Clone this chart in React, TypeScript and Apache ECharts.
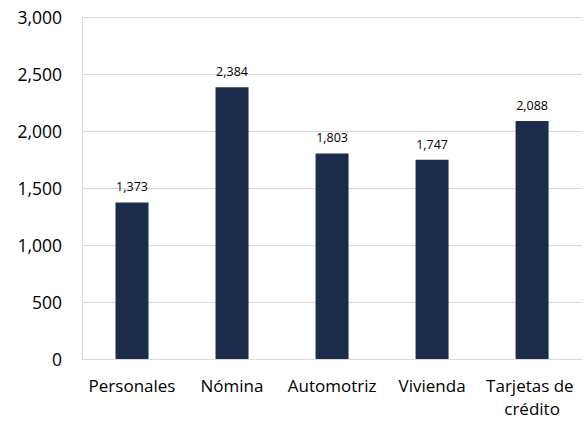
import React, { useEffect, useRef } from "react";
import * as echarts from "echarts";

const categories = ["Personales", "Nómina", "Automotriz", "Vivienda", "Tarjetas de crédito"];
const values = [1373, 2384, 1803, 1747, 2088];
const yTicks = { min: 0, max: 3000, interval: 500 };

const fmt = (v: number) => v.toLocaleString("en-US");

export default function App() {
  const ref = useRef<HTMLDivElement>(null);
  useEffect(() => {
    if (!ref.current) return;
    const chart = echarts.init(ref.current, undefined, { renderer: "svg" });
    chart.setOption({
      animation: false,
      textStyle: { fontFamily: "Open Sans" },
      grid: { left: 82, right: 2, top: 17, bottom: 64, containLabel: false },
      xAxis: {
        type: "category",
        data: categories,
        axisLine: { show: true, lineStyle: { color: "#d9d9d9" } },
        axisTick: { show: false },
        axisLabel: {
          color: "#000",
          fontSize: 17,
          margin: 15,
          width: 100,
          overflow: "break",
          lineHeight: 23,
          interval: 0,
        },
      },
      yAxis: {
        type: "value",
        min: yTicks.min,
        max: yTicks.max,
        interval: yTicks.interval,
        axisLine: { show: true, lineStyle: { color: "#d9d9d9" } },
        axisTick: { show: false },
        splitLine: { lineStyle: { color: "#d9d9d9" } },
        axisLabel: { color: "#000", fontSize: 17.5, margin: 20, formatter: (v: number) => fmt(v) },
      },
      series: [
        {
          type: "bar",
          data: values,
          barWidth: 33,
          itemStyle: { color: "#1b2d4a" },
          label: {
            show: true,
            position: "top",
            distance: 9,
            color: "#000",
            fontSize: 12.5,
            formatter: (p: any) => fmt(p.value),
          },
        },
      ],
    });
    return () => chart.dispose();
  }, []);
  return (
    <div
      ref={ref}
      style={{ position: "absolute", left: 0, top: 0, width: 585, height: 423, background: "#fff" }}
    />
  );
}
